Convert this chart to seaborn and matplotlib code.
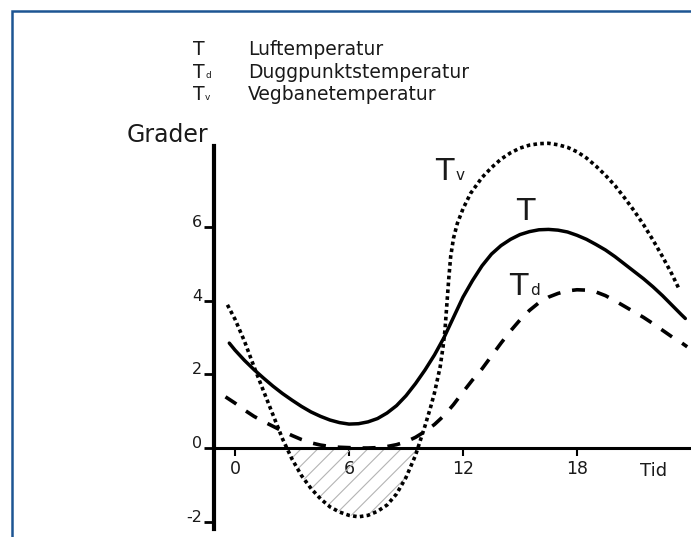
import numpy as np
import seaborn as sns
import matplotlib.pyplot as plt
from matplotlib.patches import Rectangle

# values (hours, degrees)
t_air = [-0.3, 0, 0.5, 1, 1.5, 2, 2.5, 3, 3.5, 4, 4.5, 5, 5.5, 6, 6.5, 7,
         7.5, 8, 8.5, 9, 9.5, 10, 10.5, 11, 11.5, 12, 12.5, 13, 13.5, 14,
         14.5, 15, 15.5, 16, 16.5, 17, 17.5, 18, 18.5, 19, 19.5, 20, 20.5,
         21, 21.5, 22, 22.5, 23, 23.5, 23.7]
temp_air = [2.85, 2.66, 2.38, 2.13, 1.9, 1.68, 1.48, 1.3, 1.13, 0.98, 0.86,
            0.76, 0.69, 0.65, 0.66, 0.71, 0.8, 0.95, 1.15, 1.42, 1.75, 2.12,
            2.53, 3.0, 3.55, 4.1, 4.55, 4.95, 5.27, 5.5, 5.67, 5.8, 5.88,
            5.93, 5.94, 5.92, 5.87, 5.78, 5.67, 5.53, 5.38, 5.2, 5.0, 4.8,
            4.6, 4.38, 4.14, 3.88, 3.62, 3.52]

t_dew = [-0.5, 0, 0.5, 1, 1.5, 2, 2.5, 3, 3.5, 4, 4.5, 5, 5.5, 6, 6.5, 7,
         7.5, 8, 8.5, 9, 9.5, 10, 10.5, 11, 11.5, 12, 12.5, 13, 13.5, 14,
         14.5, 15, 15.5, 16, 16.5, 17, 17.5, 18, 18.5, 19, 19.5, 20, 20.5,
         21, 21.5, 22, 22.5, 23, 23.5, 23.8]
temp_dew = [1.39, 1.22, 1.03, 0.86, 0.72, 0.59, 0.46, 0.34, 0.23, 0.14, 0.08,
            0.04, 0.02, 0.01, 0.0, 0.0, 0.01, 0.04, 0.09, 0.17, 0.29, 0.45,
            0.64, 0.88, 1.18, 1.52, 1.85, 2.15, 2.5, 2.85, 3.18, 3.48, 3.74,
            3.95, 4.1, 4.2, 4.27, 4.3, 4.29, 4.24, 4.14, 4.0, 3.85, 3.7,
            3.55, 3.38, 3.2, 3.02, 2.86, 2.75]

t_road = [-0.4, 0, 0.5, 1, 1.5, 2, 2.5, 3, 3.5, 4, 4.5, 5, 5.5, 6, 6.5, 7,
          7.5, 8, 8.5, 9, 9.5, 10, 10.3, 10.5, 10.8, 10.95, 11.05, 11.15,
          11.25, 11.35, 11.5, 11.7, 12, 12.4, 13, 13.5, 14, 14.5, 15, 15.5,
          16, 16.5, 17, 17.5, 18, 18.5, 19, 19.5, 20, 20.5, 21, 21.5, 22,
          22.5, 23, 23.4]
temp_road = [3.89, 3.5, 2.9, 2.21, 1.55, 0.9, 0.25, -0.3, -0.75, -1.1,
             -1.38, -1.6, -1.74, -1.83, -1.87, -1.83, -1.72, -1.55, -1.25,
             -0.8, -0.2, 0.6, 1.12, 1.5, 2.21, 2.75, 3.2, 3.9, 4.6, 5.2, 5.7,
             6.1, 6.5, 6.92, 7.35, 7.62, 7.85, 8.02, 8.15, 8.23, 8.27, 8.28,
             8.24, 8.17, 8.05, 7.88, 7.66, 7.41, 7.13, 6.8, 6.45, 6.07, 5.65,
             5.2, 4.72, 4.29]

x_ticks = [0, 6, 12, 18]
y_ticks = [-2, 0, 2, 4, 6]

legend_sym = ["T", "T", "T"]
legend_sub = ["", "d", "v"]
legend_txt = ["Luftemperatur", "Duggpunktstemperatur", "Vegbanetemperatur"]

W, H = 691, 537


def px(x, y):
    return x / W, 1 - y / H


sns.set_style("white")
plt.rcParams['font.family'] = ['DejaVu Sans']
plt.rcParams['text.color'] = '#1a1a1a'
plt.rcParams['axes.unicode_minus'] = False
plt.rcParams['hatch.linewidth'] = 0.8

fig = plt.figure(figsize=(W / 100, H / 100), dpi=100, facecolor="white")
ax = fig.add_axes([0, 0, 1, 1])
ax.set_facecolor("none")

# pixel -> data: t = (px-235)/19, v = (448-py)/36.8
ax.set_xlim(-235 / 19, (W - 235) / 19)
ax.set_ylim((448 - H) / 36.8, 448 / 36.8)

road = np.array(temp_road)
ax.fill_between(t_road, road, 0, where=road <= 0, interpolate=True,
                facecolor="none", edgecolor="#b4b4b4", hatch="//",
                linewidth=0, zorder=1)

sns.lineplot(x=t_air, y=temp_air, ax=ax, color="black", linewidth=2.5,
             zorder=3)
sns.lineplot(x=t_dew, y=temp_dew, ax=ax, color="black", linewidth=2.6,
             linestyle=(0, (3.6, 3.3)), zorder=3)
sns.lineplot(x=t_road, y=temp_road, ax=ax, color="black", linewidth=2.6,
             linestyle=(0, (1, 0.9)), zorder=3)

# axes drawn as crossing spines
for s in ["top", "right"]:
    ax.spines[s].set_visible(False)
ax.spines["left"].set_position(("data", -1.1))
ax.spines["left"].set_bounds(-2.2, 8.2)
ax.spines["left"].set_linewidth(3)
ax.spines["bottom"].set_position(("data", 0))
ax.spines["bottom"].set_bounds(-1.1, 24)
ax.spines["bottom"].set_linewidth(2.2)
for s in ["left", "bottom"]:
    ax.spines[s].set_color("black")

ax.set_xticks(x_ticks)
ax.set_yticks(y_ticks)
ax.tick_params(axis="x", direction="out", length=6, width=1.5, pad=3,
               labelsize=12.5, colors="black", labelcolor="#1a1a1a",
               bottom=True)
ax.tick_params(axis="y", direction="out", length=7, width=2, pad=1.5,
               labelsize=11.5, colors="black", labelcolor="#1a1a1a",
               left=True)
for lab in ax.get_yticklabels():
    lab.set_verticalalignment("baseline")
ax.set_xlabel("")
ax.set_ylabel("")

# axis titles
fig.text(*px(127, 142), "Grader", fontsize=17, ha="left", va="baseline")
fig.text(*px(640, 476), "Tid", fontsize=13, ha="left", va="baseline")

# labels next to the curves
curve_lab = [((435, 180), "v"), ((516, 220), ""), ((509, 295), "d")]
for (lx, ly), sub in curve_lab:
    tx, ty = (lx - 235) / 19, (448 - ly) / 36.8
    ax.text(tx, ty, "T", fontsize=22, ha="left", va="baseline")
    if sub:
        ax.annotate(sub, xy=(tx, ty), xytext=(15, 0),
                    textcoords="offset points", fontsize=11,
                    ha="left", va="baseline")

# legend block at top
for i, (sym, sub, txt) in enumerate(zip(legend_sym, legend_sub, legend_txt)):
    by = 55 + i * 22.5
    fig.text(*px(193, by), sym, fontsize=13.5, ha="left", va="baseline")
    if sub:
        fig.text(*px(205, by), sub, fontsize=6.5, ha="left", va="baseline")
    fig.text(*px(248, by), txt, fontsize=13.5, ha="left", va="baseline")

# blue frame (top and left edge visible)
fig.add_artist(Rectangle(px(12, H + 20), 1.2, (H + 9) / H,
                         transform=fig.transFigure, facecolor="none",
                         edgecolor="#1d5593", linewidth=1.8, clip_on=False))

fig.savefig("out.png", dpi=100, facecolor="white")
